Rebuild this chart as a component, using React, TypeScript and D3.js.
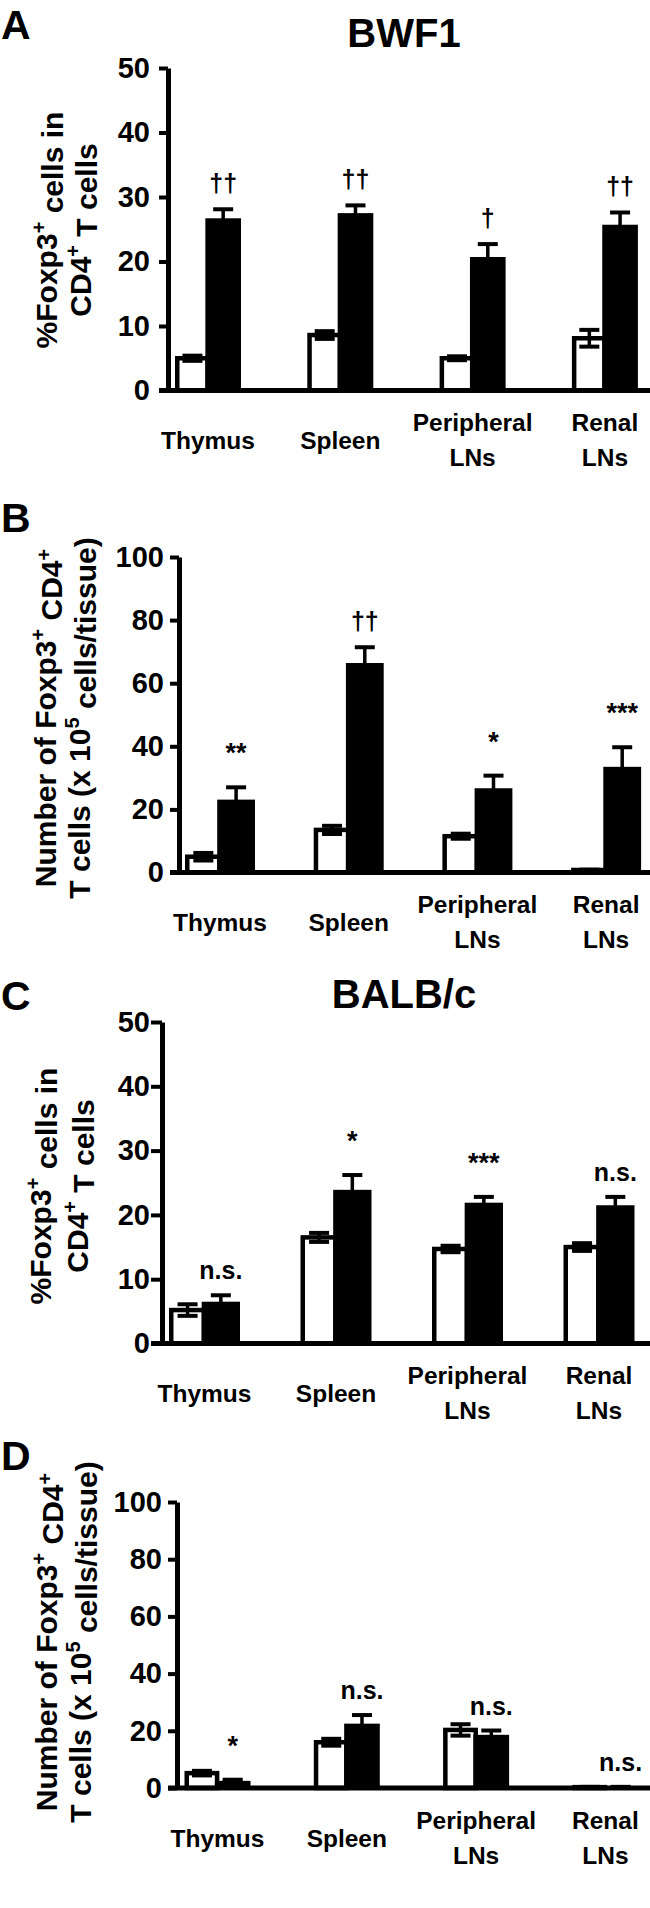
import React, { useRef, useEffect } from "react";
import * as d3 from "d3";

// tissues on the x axis
const categories = ["Thymus", "Spleen", "Peripheral LNs", "Renal LNs"];
const categoryLines = [["Thymus"], ["Spleen"], ["Peripheral", "LNs"], ["Renal", "LNs"]];

// A: BWF1, % Foxp3+ in CD4+
const aCtrl = [5.0, 8.6, 5.0, 8.1];
const aCtrlErr = [0.4, 0.6, 0.3, 1.3];
const aTreat = [26.7, 27.5, 20.7, 25.7];
const aTreatErr = [1.4, 1.2, 2.0, 1.9];
const aSig = ["††", "††", "†", "††"];

// B: BWF1, number of cells
const bCtrl = [5.0, 13.5, 11.5, 0.8];
const bCtrlErr = [1.2, 1.3, 0.8, 0.1];
const bTreat = [23.1, 66.4, 26.7, 33.5];
const bTreatErr = [3.9, 5.0, 4.0, 6.2];
const bSig = ["**", "††", "*", "***"];

// C: BALB/c, % Foxp3+ in CD4+
const cCtrl = [5.2, 16.5, 14.7, 15.0];
const cCtrlErr = [0.9, 0.7, 0.5, 0.6];
const cTreat = [6.5, 23.9, 21.9, 21.5];
const cTreatErr = [1.0, 2.3, 0.9, 1.3];
const cSig = ["n.s.", "*", "***", "n.s."];

// D: BALB/c, number of cells
const dCtrl = [5.2, 16.0, 20.3, 0.3];
const dCtrlErr = [0.8, 1.2, 2.0, 0.1];
const dTreat = [2.5, 22.5, 18.6, 0.3];
const dTreatErr = [0.4, 3.0, 1.5, 0.1];
const dSig = ["*", "n.s.", "n.s.", "n.s."];

const pctLabel = [
    [{ t: "%Foxp3" }, { t: "+", sup: true }, { t: " cells in" }],
    [{ t: "CD4" }, { t: "+", sup: true }, { t: " T cells" }],
];
const numLabel = [
    [{ t: "Number of Foxp3" }, { t: "+", sup: true }, { t: " CD4" }, { t: "+", sup: true }],
    [{ t: "T cells (x 10" }, { t: "5", sup: true }, { t: " cells/tissue)" }],
];

const FONT = '"Liberation Sans", Arial, Helvetica, sans-serif';

const panels = [
    {
        letter: "A", letterY: 39, title: "BWF1", titleY: 47,
        axisX: 168, yTop: 68, yZero: 390.5, yMax: 50, tickStep: 10, tickLen: 9, tickPad: 9,
        groupStart: 175, step: 132.3, groupW: 66,
        labelX: [57, 91], labelY: 230, label: pctLabel,
        ctrl: aCtrl, ctrlErr: aCtrlErr, treat: aTreat, treatErr: aTreatErr, sig: aSig,
    },
    {
        letter: "B", letterY: 532,
        axisX: 179, yTop: 557, yZero: 872.5, yMax: 100, tickStep: 20, tickLen: 9, tickPad: 6,
        groupStart: 185, step: 128.7, groupW: 70,
        labelX: [56, 90], labelY: 718, label: numLabel,
        ctrl: bCtrl, ctrlErr: bCtrlErr, treat: bTreat, treatErr: bTreatErr, sig: bSig,
    },
    {
        letter: "C", letterY: 1010, title: "BALB/c", titleY: 1008,
        axisX: 162, yTop: 1022, yZero: 1343.5, yMax: 50, tickStep: 10, tickLen: 11, tickPad: 1,
        groupStart: 169, step: 131.5, groupW: 71,
        labelX: [51, 88], labelY: 1186, label: pctLabel,
        ctrl: cCtrl, ctrlErr: cCtrlErr, treat: cTreat, treatErr: cTreatErr, sig: cSig,
    },
    {
        letter: "D", letterY: 1470,
        axisX: 177, yTop: 1502, yZero: 1788, yMax: 100, tickStep: 20, tickLen: 9, tickPad: 6,
        groupStart: 184.5, step: 129.3, groupW: 66,
        labelX: [57, 91], labelY: 1642, label: numLabel,
        ctrl: dCtrl, ctrlErr: dCtrlErr, treat: dTreat, treatErr: dTreatErr, sig: dSig,
    },
];

const App = () => {
    const ref = useRef(null);

    useEffect(() => {
        const svg = d3.select(ref.current);
        svg.selectAll("*").remove();

        panels.forEach((p) => {
            const g = svg.append("g");

            const y = d3.scaleLinear().domain([0, p.yMax]).range([p.yZero, p.yTop]);
            const pad = 1 - p.groupW / p.step;
            const x = d3.scaleBand()
                .domain(categories)
                .range([p.groupStart, p.groupStart + p.step * (categories.length - pad)])
                .paddingInner(pad)
                .paddingOuter(0);
            // open bar is a bit narrower than the filled one
            const wOpen = x.bandwidth() * 0.46;
            const wFill = x.bandwidth() - wOpen;

            // panel letter + title
            g.append("text").attr("x", 1).attr("y", p.letterY)
                .attr("font-size", 41).attr("font-weight", "bold").attr("font-family", FONT)
                .text(p.letter);
            if (p.title) {
                g.append("text").attr("x", 404).attr("y", p.titleY)
                    .attr("text-anchor", "middle")
                    .attr("font-size", 40).attr("font-weight", "bold").attr("font-family", FONT)
                    .text(p.title);
            }

            // bars
            const sw = 4.5;
            categories.forEach((c, i) => {
                const x0 = x(c);
                const vC = p.ctrl[i];
                const vT = p.treat[i];
                g.append("rect")
                    .attr("x", x0 + sw / 2)
                    .attr("y", y(vC))
                    .attr("width", wOpen)
                    .attr("height", Math.max(0.5, p.yZero - y(vC)))
                    .attr("fill", "white").attr("stroke", "black").attr("stroke-width", sw);
                g.append("rect")
                    .attr("x", x0 + wOpen)
                    .attr("y", y(vT))
                    .attr("width", wFill)
                    .attr("height", Math.max(0.5, p.yZero - y(vT)))
                    .attr("fill", "black");

                // error bars
                const errs = [
                    { cx: x0 + sw / 2 + wOpen / 2, v: vC, e: p.ctrlErr[i] },
                    { cx: x0 + wOpen + wFill / 2, v: vT, e: p.treatErr[i] },
                ];
                errs.forEach((d) => {
                    const lo = Math.max(0, d.v - d.e);
                    g.append("line").attr("x1", d.cx).attr("x2", d.cx)
                        .attr("y1", y(lo)).attr("y2", y(d.v + d.e))
                        .attr("stroke", "black").attr("stroke-width", 3.5);
                    [d.v + d.e, lo].forEach((yy) => {
                        g.append("line").attr("x1", d.cx - 10).attr("x2", d.cx + 10)
                            .attr("y1", y(yy)).attr("y2", y(yy))
                            .attr("stroke", "black").attr("stroke-width", 4);
                    });
                });

                // significance
                const s = p.sig[i];
                const star = s.includes("*");
                const off = star ? 25 : s.includes("†") ? 17 : 16;
                g.append("text")
                    .attr("x", errs[1].cx)
                    .attr("y", y(vT + p.treatErr[i]) - off)
                    .attr("text-anchor", "middle")
                    .attr("font-size", star ? 27 : 25).attr("font-weight", "bold").attr("font-family", FONT)
                    .text(s);

                // category labels
                const lines = categoryLines[i];
                const cx = x0 + x.bandwidth() / 2;
                const ys = lines.length === 1 ? [50] : [32, 67];
                lines.forEach((ln, j) => {
                    g.append("text")
                        .attr("x", cx).attr("y", p.yZero + ys[j]).attr("dy", "0.35em")
                        .attr("text-anchor", "middle")
                        .attr("font-size", 24.5).attr("font-weight", "bold").attr("font-family", FONT)
                        .text(ln);
                });
            });

            // axes
            const yAxis = d3.axisLeft(y)
                .tickValues(d3.range(0, p.yMax + 1, p.tickStep))
                .tickSize(p.tickLen).tickSizeOuter(0).tickPadding(p.tickPad);
            const ag = g.append("g").attr("transform", `translate(${p.axisX},0)`).call(yAxis);
            ag.select(".domain").attr("stroke-width", 5);
            ag.selectAll(".tick line").attr("stroke-width", 4);
            ag.selectAll(".tick text")
                .attr("font-size", 29).attr("font-weight", "bold").attr("font-family", FONT)
                .attr("fill", "black");

            g.append("line")
                .attr("x1", p.axisX - p.tickLen).attr("x2", 650)
                .attr("y1", p.yZero).attr("y2", p.yZero)
                .attr("stroke", "black").attr("stroke-width", 5);

            // y label, two rotated lines
            p.label.forEach((segs, j) => {
                const t = g.append("text")
                    .attr("transform", `translate(${p.labelX[j]},${p.labelY}) rotate(-90)`)
                    .attr("text-anchor", "middle")
                    .attr("font-size", 30).attr("font-weight", "bold").attr("font-family", FONT);
                let raised = false;
                segs.forEach((s) => {
                    const ts = t.append("tspan").text(s.t);
                    if (s.sup && !raised) {
                        ts.attr("dy", "-0.55em").attr("font-size", 20);
                        raised = true;
                    } else if (!s.sup && raised) {
                        ts.attr("dy", "0.55em");
                        raised = false;
                    }
                });
            });
        });
    }, []);

    return (
        <div>
            <svg ref={ref} width={650} height={1908}
                style={{ position: "absolute", left: 0, top: 0, background: "white" }}>
            </svg>
        </div>
    );
};

export default App;
